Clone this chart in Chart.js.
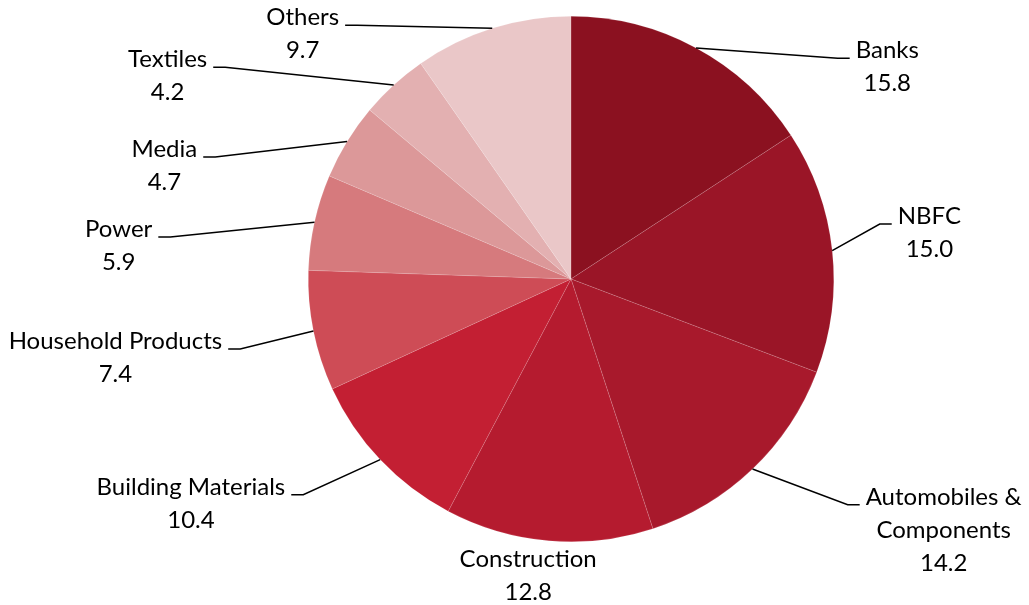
<!DOCTYPE html>
<html>
<head>
<meta charset="utf-8">
<script src="https://cdn.jsdelivr.net/npm/chart.js@4.4.1/dist/chart.umd.min.js"></script>
<style>
  html, body { margin: 0; padding: 0; background: #fff; }
  #wrap { width: 1029px; height: 605px; }
</style>
</head>
<body>
<div id="wrap"><canvas id="sector-chart"></canvas></div>
<script>
const sectors = ["Banks", "NBFC", "Automobiles & Components", "Construction", "Building Materials",
  "Household Products", "Power", "Media", "Textiles", "Others"];
const weights = [15.8, 15.0, 14.2, 12.8, 10.4, 7.4, 5.9, 4.7, 4.2, 9.7];
const labelLines = [["Banks"], ["NBFC"], ["Automobiles &", "Components"], ["Construction"],
  ["Building Materials"], ["Household Products"], ["Power"], ["Media"], ["Textiles"], ["Others"]];

const sliceColors = ["#8b1120", "#9a1527", "#a8192c", "#b51b2f", "#c31f33",
  "#ce4c56", "#d67a7d", "#dc9899", "#e3b0b1", "#eac7c8"];

// label elbow points, relative to the pie centre in units of the radius
// side: 1 = text to the right, -1 = text to the left, 0 = centred under, no leader
const labelLayout = [
  { dx: 1.015, dy: -0.840, side: 1 },
  { dx: 1.175, dy: -0.209, side: 1 },
  { dx: 1.053, dy: 0.859, side: 1 },
  { dx: -0.163, dy: 1.095, side: 0 },
  { dx: -1.019, dy: 0.821, side: -1 },
  { dx: -1.259, dy: 0.266, side: -1 },
  { dx: -1.525, dy: -0.160, side: -1 },
  { dx: -1.354, dy: -0.464, side: -1 },
  { dx: -1.316, dy: -0.806, side: -1 },
  { dx: -0.814, dy: -0.966, side: -1 }
];

const labelFont = "24px Lato, 'Open Sans', sans-serif";
const lineGap = 33;

const leaderLabels = {
  id: "leaderLabels",
  afterDatasetsDraw(chart) {
    const ctx = chart.ctx;
    const arcs = chart.getDatasetMeta(0).data;
    ctx.save();
    ctx.font = labelFont;
    ctx.textBaseline = "alphabetic";
    ctx.fillStyle = "#000";
    ctx.strokeStyle = "#000";
    ctx.lineWidth = 1.5;
    arcs.forEach((arc, i) => {
      const p = arc.getProps(["x", "y", "startAngle", "endAngle", "outerRadius"], true);
      const mid = (p.startAngle + p.endAngle) / 2;
      const R = p.outerRadius;
      const lay = labelLayout[i];
      const ex = p.x + lay.dx * R;
      const ey = p.y + lay.dy * R;
      const lines = labelLines[i].concat([weights[i].toFixed(1)]);
      const blockW = Math.max(...lines.map(t => ctx.measureText(t).width));
      let cx;
      if (lay.side === 0) {
        cx = ex;
      } else {
        ctx.beginPath();
        ctx.moveTo(p.x + Math.cos(mid) * R, p.y + Math.sin(mid) * R);
        ctx.lineTo(ex, ey);
        ctx.lineTo(ex + lay.side * 12, ey);
        ctx.stroke();
        cx = lay.side > 0 ? ex + 18 + blockW / 2 : ex - 18 - blockW / 2;
      }
      ctx.textAlign = "center";
      lines.forEach((t, k) => ctx.fillText(t, cx, ey + k * lineGap));
    });
    ctx.restore();
  }
};

new Chart(document.getElementById("sector-chart"), {
  type: "pie",
  data: {
    labels: sectors,
    datasets: [{
      data: weights,
      backgroundColor: sliceColors,
      borderColor: "rgba(255,255,255,0.25)",
      borderWidth: 0.5
    }]
  },
  options: {
    responsive: true,
    maintainAspectRatio: false,
    animation: { duration: 0 },
    layout: { padding: { left: 308, right: 195, top: 16, bottom: 63 } },
    plugins: {
      legend: { display: false },
      tooltip: { enabled: false }
    }
  },
  plugins: [leaderLabels]
});
</script>
</body>
</html>
